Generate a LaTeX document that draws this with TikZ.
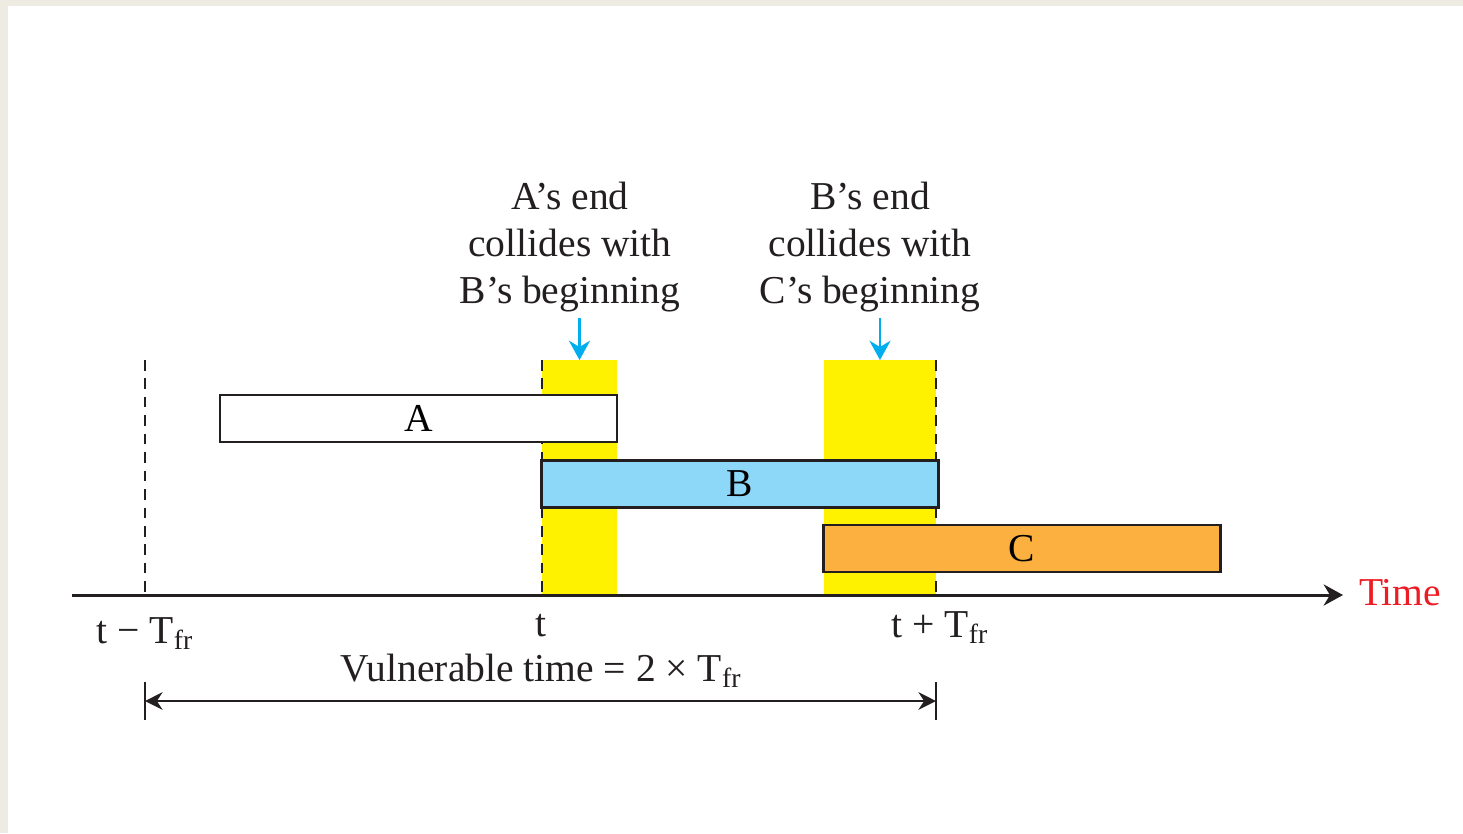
\documentclass[tikz,border=0pt]{standalone}
\usepackage{fontspec}
\setmainfont{Liberation Serif}
\usetikzlibrary{arrows.meta}
\definecolor{pagebg}{HTML}{EEEBE3}
\definecolor{linec}{HTML}{231F20}
\definecolor{hiyel}{HTML}{FFF200}
\definecolor{bfill}{HTML}{8DD8F8}
\definecolor{cfill}{HTML}{FBB040}
\definecolor{arrowc}{HTML}{00AEEF}
\definecolor{timec}{HTML}{ED1C24}
\tikzset{
  frame/.style={draw=linec,line width=1.2pt,rectangle,minimum width=7.94cm,minimum height=0.94cm,inner sep=0pt,outer sep=0pt},
  window/.style={fill=hiyel,rectangle,minimum height=4.7cm,inner sep=0pt,outer sep=0pt},
  guide/.style={linec,line width=1pt,dash pattern=on 6pt off 4.5pt},
  hint/.style={-{Stealth[length=11pt,width=12pt]},line width=1.4pt,arrowc},
  label/.style={font=\fontsize{22.5}{26.7}\selectfont,text=linec,inner sep=0pt},
}
\begin{document}
\begin{tikzpicture}[x=0.02cm,y=-0.02cm]
\useasboundingbox (0,0) rectangle (1463,833);
\fill[pagebg] (0,0) rectangle (1463,833);
\fill[white] (8,6) rectangle (1463,833);
% collision windows
\node[window,minimum width=1.5cm] (wa) at (579.5,477.5) {};
\node[window,minimum width=2.24cm] (wb) at (880,477.5) {};
% time marks
\coordinate (m0top) at (145,360); \coordinate (m0) at (145,595);
\coordinate (m1top) at (542,360); \coordinate (m1) at (542,595);
\coordinate (m2top) at (936,360); \coordinate (m2) at (936,595);
\draw[guide] (m0top) -- (m0);
\draw[guide] (m1top) -- (m1);
\draw[guide] (m2top) -- (m2);
% frames
\node[frame,fill=white] (fa) at (418.5,418.5) {\fontsize{22.5}{26.7}\selectfont A};
\node[frame,fill=bfill] (fb) at (740,484) {\fontsize{22.5}{26.7}\selectfont B};
\node[frame,fill=cfill] (fc) at (1022,548.5) {\fontsize{22.5}{26.7}\selectfont C};
% time axis
\coordinate (ax0) at (72,595);
\node[label,anchor=base,text=timec] (time) at (1400,605) {Time};
\draw[linec,line width=1.7pt,-{Stealth[length=11pt,width=12pt]}] (ax0) -- (1343,595);
\node[label,anchor=base] (l0) at (145,643) {t − T\textsubscript{fr}};
\node[label,anchor=base] (l1) at (541,636) {t};
\node[label,anchor=base] (l2) at (940,637) {t + T\textsubscript{fr}};
% notes
\node[label,align=center] (na) at (570,247) {A’s end\\collides with\\B’s beginning};
\node[label,align=center] (nb) at (870,247) {B’s end\\collides with\\C’s beginning};
\coordinate (pa) at (579.5,318);
\coordinate (pb) at (880,318);
\draw[hint] (pa) -- (wa.north);
\draw[hint] (pb) -- (wb.north);
% vulnerable time
\node[label,anchor=base] (vt) at (541,681) {Vulnerable time = 2 × T\textsubscript{fr}};
\coordinate (vl) at (145,701); \coordinate (vr) at (936,701);
\draw[linec,line width=1.1pt] ([yshift=0.38cm]vl) -- ([yshift=-0.38cm]vl);
\draw[linec,line width=1.1pt] ([yshift=0.38cm]vr) -- ([yshift=-0.38cm]vr);
\draw[linec,line width=1.1pt,{Stealth[length=10pt,width=10pt]}-{Stealth[length=10pt,width=10pt]}] (vl) -- (vr);
\end{tikzpicture}
\end{document}
